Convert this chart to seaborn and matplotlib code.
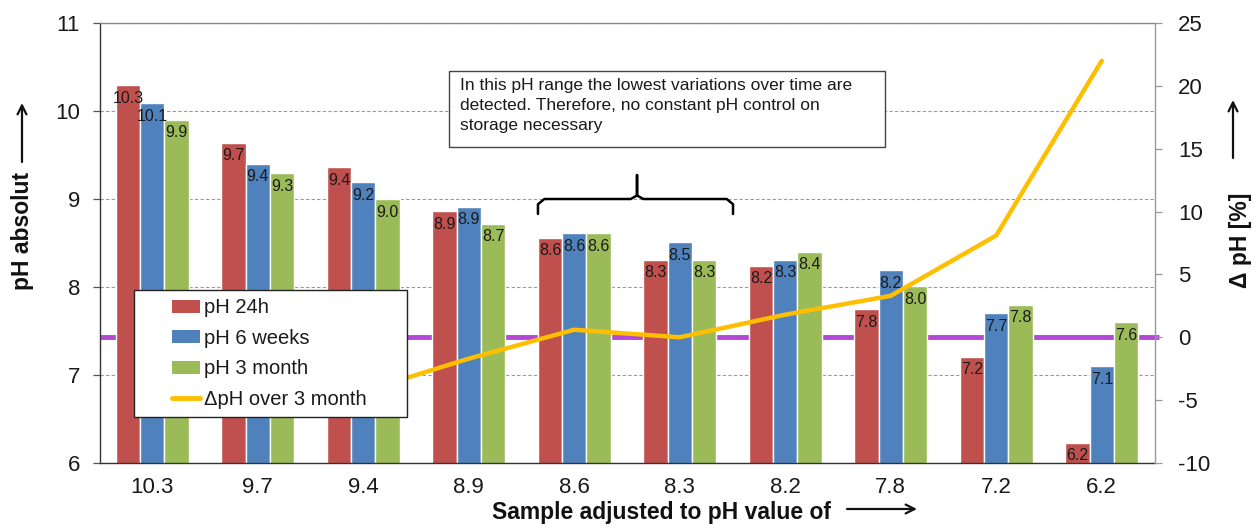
import numpy as np
import pandas as pd
import matplotlib
matplotlib.use("Agg")
import matplotlib.pyplot as plt
import seaborn as sns
from matplotlib.patches import Rectangle
from matplotlib.lines import Line2D
from matplotlib.patches import Patch
from matplotlib.transforms import blended_transform_factory
from matplotlib.ticker import FixedLocator

# ---------------- data ----------------
categories = ["10.3", "9.7", "9.4", "8.9", "8.6", "8.3", "8.2", "7.8", "7.2", "6.2"]
series_names = ["pH 24h", "pH 6 weeks", "pH 3 month"]
ph_24h = [10.29, 9.64, 9.36, 8.86, 8.56, 8.31, 8.24, 7.75, 7.21, 6.23]
ph_6w = [10.09, 9.40, 9.19, 8.91, 8.61, 8.51, 8.31, 8.19, 7.70, 7.10]
ph_3m = [9.90, 9.29, 9.00, 8.72, 8.61, 8.31, 8.40, 8.01, 7.80, 7.60]
lbl_24h = ["10.3", "9.7", "9.4", "8.9", "8.6", "8.3", "8.2", "7.8", "7.2", "6.2"]
lbl_6w = ["10.1", "9.4", "9.2", "8.9", "8.6", "8.5", "8.3", "8.2", "7.7", "7.1"]
lbl_3m = ["9.9", "9.3", "9.0", "8.7", "8.6", "8.3", "8.4", "8.0", "7.8", "7.6"]
delta_name = "\u0394pH over 3 month"
delta_ph = [-3.9, -3.6, -4.3, -1.7, 0.6, 0.0, 1.8, 3.3, 8.1, 22.0]
left_ticks = [6, 7, 8, 9, 10, 11]
right_ticks = [-10, -5, 0, 5, 10, 15, 20, 25]
note_text = ("In this pH range the lowest variations over time are\n"
             "detected. Therefore, no constant pH control on\n"
             "storage necessary")

colors = ["#C0504D", "#4F81BD", "#9BBB59"]
yellow = "#FFBF00"
purple = "#B347D6"

# ---------------- style ----------------
sns.set_theme(style="white")
plt.rcParams["font.family"] = ["Liberation Sans", "DejaVu Sans"]
plt.rcParams["axes.unicode_minus"] = False

df = pd.DataFrame({
    "sample": categories * 3,
    "pH": ph_24h + ph_6w + ph_3m,
    "series": sum([[s] * len(categories) for s in series_names], []),
})

fig = plt.figure(figsize=(12.57, 5.32), dpi=100)
ax = fig.add_axes([99.5 / 1257, 1 - 463 / 532, 1055 / 1257, 440 / 532])

sns.barplot(data=df, x="sample", y="pH", hue="series", order=categories,
            hue_order=series_names, palette=colors, saturation=1,
            width=0.69, ax=ax, legend=False, errorbar=None, zorder=2)

ax.set_ylim(left_ticks[0], left_ticks[-1])
ax.set_xlim(-0.5, len(categories) - 0.5)
ax.set_yticks(left_ticks)
ax.set_xlabel("")
ax.set_ylabel("")
ax.set_axisbelow(True)
ax.yaxis.grid(True, color="#9a9a9a", linestyle=(0, (3, 2)), linewidth=0.8)
ax.xaxis.grid(False)

# x ticks: labels at categories, tick marks between categories
ax.tick_params(axis="x", which="major", length=0, pad=10, labelsize=16, labelcolor="#1a1a1a")
ax.xaxis.set_minor_locator(FixedLocator(np.arange(-0.5, len(categories), 1.0)))
ax.tick_params(axis="x", which="minor", length=7, width=0.9, color="#555555", direction="out")
ax.tick_params(axis="y", length=5, width=0.9, color="#555555", pad=9, labelsize=16,
               labelcolor="#1a1a1a", left=True)

for s in ["left", "bottom"]:
    ax.spines[s].set_color("#333333")
    ax.spines[s].set_linewidth(1.0)
ax.spines["top"].set_color("#888888")
ax.spines["top"].set_linewidth(1.0)
ax.spines["right"].set_visible(False)

# bar value labels
for cont, lbls in zip(ax.containers, [lbl_24h, lbl_6w, lbl_3m]):
    for patch, lb in zip(cont.patches, lbls):
        ax.annotate(lb, (patch.get_x() + patch.get_width() / 2, patch.get_height()),
                    xytext=(0, -4), textcoords="offset points", ha="center", va="top",
                    fontsize=11.5, color="#1a1a1a", zorder=3, annotation_clip=False)

# secondary axis
ax2 = ax.twinx()
ax2.set_ylim(right_ticks[0], right_ticks[-1])
ax2.set_yticks(right_ticks)
ax2.tick_params(axis="y", length=5, width=0.9, color="#999999", pad=12, labelsize=16,
                labelcolor="#1a1a1a", right=True)
ax2.grid(False)
for s in ["left", "bottom", "top"]:
    ax2.spines[s].set_visible(False)
ax2.spines["right"].set_color("#999999")
ax2.spines["right"].set_linewidth(1.0)

# zero reference line (behind the bars)
blend = blended_transform_factory(ax.transAxes, ax2.transData)
ax.plot([0, 1.004], [0, 0], transform=blend, color=purple, lw=3.5, zorder=1.5,
        clip_on=False, solid_capstyle="butt")

# delta pH line
xpos = np.arange(len(categories))
sns.lineplot(x=xpos, y=delta_ph, ax=ax2, color=yellow, lw=3.2, zorder=3,
             legend=False, solid_capstyle="round")
ax2.set_xlim(-0.5, len(categories) - 0.5)

# legend with a separate frame
ax2.add_patch(Rectangle((0.0327, 0.1045), 0.2588, 0.2885, transform=ax2.transAxes,
                        facecolor="white", edgecolor="#222222", lw=1.0, zorder=8))
handles = [Patch(facecolor=c, edgecolor="none") for c in colors]
handles.append(Line2D([0], [0], color=yellow, lw=3.5))
leg = ax2.legend(handles, series_names + [delta_name], loc="upper left",
                 bbox_to_anchor=(0.0687, 0.374), frameon=False, fontsize=14.5,
                 borderpad=0, borderaxespad=0, handlelength=1.4, handleheight=0.6,
                 handletextpad=0.2, labelspacing=0.57)
leg.set_zorder(9)
for t in leg.get_texts():
    t.set_color("#1a1a1a")

# note box
ax2.add_patch(Rectangle((0.331, 0.718), 0.4136, 0.173, transform=ax2.transAxes,
                        facecolor="white", edgecolor="#444444", lw=1.0, zorder=8))
ax2.text(0.3417, 0.874, note_text, transform=ax2.transAxes, ha="left", va="top",
         fontsize=12.5, linespacing=1.38, color="#1a1a1a", zorder=9)

# curly bracket
bx0, bx1, bxc = 0.4156, 0.6005, 0.5095
by0, byb, byt = 0.566, 0.600, 0.6545
r = 0.006
brace_x = [bx0, bx0, bx0 + r, bxc - r, bxc, bxc, bxc, bxc + r, bx1 - r, bx1, bx1]
brace_y = [by0, byb - 0.012, byb, byb, byb + 0.008, byt, byb + 0.008, byb, byb, byb - 0.012, by0]
ax2.plot(brace_x, brace_y, transform=ax2.transAxes, color="black", lw=1.8, zorder=7,
         solid_joinstyle="round", clip_on=False)

# axis titles and arrows
fig.text(22 / 1257, 301 / 532, "pH absolut", rotation=90, ha="center", va="center",
         fontsize=16.5, fontweight="bold", color="#111111")
fig.text(1240 / 1257, 292 / 532, "\u0394 pH [%]", rotation=90, ha="center", va="center",
         fontsize=16.5, fontweight="bold", color="#111111")
fig.text(661 / 1257, 13 / 532, "Sample adjusted to pH value of", ha="center",
         va="baseline", fontsize=16.5, fontweight="bold", color="#111111")
arrow_kw = dict(arrowstyle="->", lw=1.6, color="#111111", mutation_scale=16,
                shrinkA=0, shrinkB=0)
ax.annotate("", xy=(22, 429), xytext=(22, 370), xycoords="figure pixels",
            textcoords="figure pixels", arrowprops=arrow_kw, annotation_clip=False)
ax.annotate("", xy=(1233, 432), xytext=(1233, 374), xycoords="figure pixels",
            textcoords="figure pixels", arrowprops=arrow_kw, annotation_clip=False)
ax.annotate("", xy=(917, 23), xytext=(847, 23), xycoords="figure pixels",
            textcoords="figure pixels", arrowprops=arrow_kw, annotation_clip=False)

fig.savefig("out.png", dpi=100, facecolor="white")
